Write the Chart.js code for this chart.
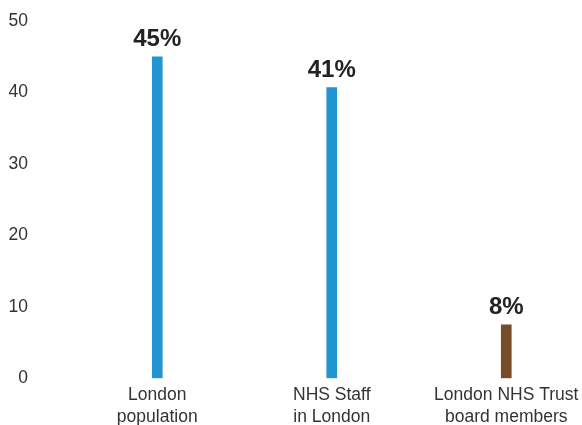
<!DOCTYPE html>
<html>
<head>
<meta charset="utf-8">
<script src="https://cdn.jsdelivr.net/npm/chart.js@4"></script>
<style>
  html, body { margin: 0; padding: 0; background: #ffffff; overflow: hidden; }
  canvas { display: block; }
</style>
</head>
<body>
<canvas id="chart" width="582" height="425"></canvas>
<script>
// chart data
const categories = [['London', 'population'], ['NHS Staff', 'in London'], ['London NHS Trust', 'board members']];
const values = [45, 40.7, 7.5];
const valueLabels = ['45%', '41%', '8%'];
const barColors = ['#2394d2', '#2394d2', '#774d29'];
const yTicks = [0, 10, 20, 30, 40, 50];

// bold % text above each bar
const topLabels = {
    id: 'topLabels',
    afterDatasetsDraw(chart) {
        const ctx = chart.ctx;
        const meta = chart.getDatasetMeta(0);
        ctx.save();
        ctx.font = 'bold 24px "Liberation Sans", Arial, sans-serif';
        ctx.fillStyle = '#222222';
        ctx.textAlign = 'center';
        ctx.textBaseline = 'bottom';
        meta.data.forEach(function (bar, i) {
            ctx.fillText(valueLabels[i], bar.x, bar.y - 5);
        });
        ctx.restore();
    }
};

new Chart(document.getElementById('chart'), {
    type: 'bar',
    data: {
        datasets: [{
            data: values.map(function (v, i) { return { x: i, y: v }; }),
            backgroundColor: barColors,
            barThickness: 10,
            borderWidth: 0,
        }],
    },
    options: {
        responsive: false,
        animation: false,
        layout: { padding: { top: 21, left: 0, right: 0, bottom: 0 } },
        scales: {
            x: {
                type: 'linear',
                offset: false,
                min: -0.5,
                max: 2.434,
                grid: { display: false },
                border: { display: false },
                afterBuildTicks: function (scale) {
                    scale.ticks = categories.map(function (c, i) { return { value: i }; });
                },
                afterFit: function (scale) {
                    scale.height = 46.7;
                    scale.paddingLeft = 0;
                    scale.paddingRight = 0;
                    scale.paddingTop = 0;
                    scale.paddingBottom = 0;
                },
                ticks: {
                    autoSkip: false,
                    maxRotation: 0,
                    padding: -2,
                    color: '#333333',
                    font: { family: '"Liberation Sans", Arial, sans-serif', size: 17.5, lineHeight: 1.25 },
                    callback: function (value) { return categories[value]; },
                },
            },
            y: {
                min: 0,
                max: 50,
                grid: { display: false },
                border: { display: false },
                afterBuildTicks: function (scale) {
                    scale.ticks = yTicks.map(function (v) { return { value: v }; });
                },
                afterFit: function (scale) {
                    scale.width = 70;
                    scale.paddingTop = 0;
                    scale.paddingBottom = 0;
                },
                ticks: {
                    padding: 34,
                    color: '#333333',
                    font: { family: '"Liberation Sans", Arial, sans-serif', size: 17.5 },
                },
            },
        },
        plugins: {
            legend: { display: false },
            tooltip: { enabled: false },
        },
    },
    plugins: [topLabels],
});
</script>
</body>
</html>
